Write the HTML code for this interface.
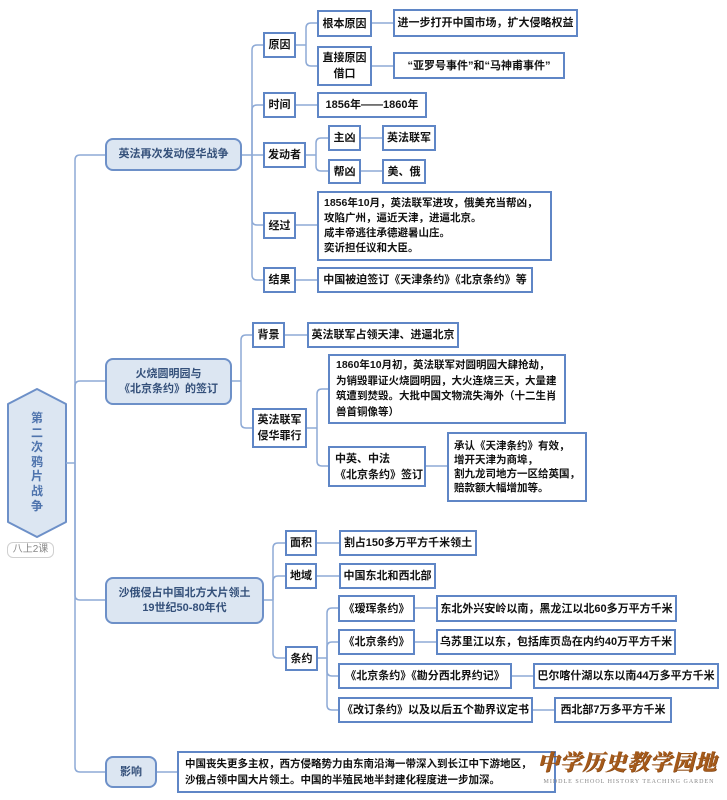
<!DOCTYPE html>
<html><head><meta charset="utf-8">
<style>
*{box-sizing:border-box;margin:0;padding:0}
html,body{width:727px;height:800px;background:#fff;overflow:hidden}
body{position:relative;font-family:"Liberation Sans","Noto Sans CJK SC",sans-serif;font-weight:bold;font-size:11px;color:#111}
.b{position:absolute;border:2px solid #5f86c6;background:#fff;display:flex;align-items:center;justify-content:center;text-align:center;white-space:nowrap;line-height:14px}
.l{justify-content:flex-start;text-align:left;padding-left:5px}
.s{font-size:10.5px}
.m{position:absolute;border:2px solid #6d90c8;background:#dce6f2;border-radius:8px;display:flex;align-items:center;justify-content:center;text-align:center;white-space:nowrap;color:#34507a;line-height:15px}
svg{position:absolute;left:0;top:0}
</style></head><body>
<svg width="727" height="800" viewBox="0 0 727 800">
<polygon points="37,389 66,404 66,522 37,537 8,522 8,404" fill="#dce6f2" stroke="#6d90c8" stroke-width="2" stroke-linejoin="round"/>
<g fill="none" stroke="#8eaad6" stroke-width="1.5">
<path d="M66 463 H75"/>
<path d="M75 463 V160 Q75 155 80 155 H105"/>
<path d="M75 463 V386 Q75 381 80 381 H105"/>
<path d="M75 463 V595 Q75 600 80 600 H105"/>
<path d="M75 463 V767 Q75 772 80 772 H105"/>
<path d="M242 155 H252"/>
<path d="M252 155 V50 Q252 45 257 45 H263"/>
<path d="M252 155 V110 Q252 105 257 105 H263"/>
<path d="M252 155 H263"/>
<path d="M252 155 V220 Q252 225 257 225 H263"/>
<path d="M252 155 V275 Q252 280 257 280 H263"/>
<path d="M296 45 H306"/>
<path d="M306 45 V28 Q306 23 311 23 H317"/>
<path d="M306 45 V61 Q306 66 311 66 H317"/>
<path d="M372 23 H393"/>
<path d="M372 66 H393"/>
<path d="M296 105 H317"/>
<path d="M306 155 H316"/>
<path d="M316 155 V143 Q316 138 321 138 H328"/>
<path d="M316 155 V166 Q316 171 321 171 H328"/>
<path d="M361 138 H382"/>
<path d="M361 171 H382"/>
<path d="M296 225 H317"/>
<path d="M296 280 H317"/>
<path d="M232 381 H241"/>
<path d="M241 381 V340 Q241 335 246 335 H252"/>
<path d="M241 381 V423 Q241 428 246 428 H252"/>
<path d="M285 335 H307"/>
<path d="M307 428 H317"/>
<path d="M317 428 V394 Q317 389 322 389 H328"/>
<path d="M317 428 V461 Q317 466 322 466 H328"/>
<path d="M426 466 H447"/>
<path d="M264 600 H273"/>
<path d="M273 600 V548 Q273 543 278 543 H285"/>
<path d="M273 600 V581 Q273 576 278 576 H285"/>
<path d="M273 600 V653 Q273 658 278 658 H285"/>
<path d="M317 543 H339"/>
<path d="M317 576 H339"/>
<path d="M318 658 H327"/>
<path d="M327 658 V613 Q327 608 332 608 H338"/>
<path d="M327 658 V647 Q327 642 332 642 H338"/>
<path d="M327 658 V671 Q327 676 332 676 H338"/>
<path d="M327 658 V705 Q327 710 332 710 H338"/>
<path d="M415 608 H436"/>
<path d="M415 642 H436"/>
<path d="M512 676 H533"/>
<path d="M533 710 H554"/>
<path d="M157 772 H177"/>
</g>
</svg>

<div style="position:absolute;left:8px;top:411px;width:58px;text-align:center;line-height:14.6px;font-size:12px;color:#4f74ad">第<br>二<br>次<br>鸦<br>片<br>战<br>争</div>
<div style="position:absolute;left:7px;top:542px;width:47px;height:16px;border:1px solid #d0d0d0;border-radius:6px;font-size:10px;font-weight:normal;color:#888;text-align:center;line-height:14px">八上2课</div>

<div class="m" style="left:105px;top:138px;width:137px;height:33px">英法再次发动侵华战争</div>
<div class="m" style="left:105px;top:358px;width:127px;height:47px">火烧圆明园与<br>《北京条约》的签订</div>
<div class="m" style="left:105px;top:577px;width:159px;height:47px">沙俄侵占中国北方大片领土<br>19世纪50-80年代</div>
<div class="m" style="left:105px;top:756px;width:52px;height:32px">影响</div>

<div class="b" style="left:263px;top:32px;width:33px;height:26px">原因</div>
<div class="b" style="left:263px;top:92px;width:33px;height:26px">时间</div>
<div class="b" style="left:263px;top:142px;width:43px;height:26px">发动者</div>
<div class="b" style="left:263px;top:212px;width:33px;height:27px">经过</div>
<div class="b" style="left:263px;top:267px;width:33px;height:26px">结果</div>
<div class="b" style="left:317px;top:10px;width:55px;height:27px">根本原因</div>
<div class="b" style="left:317px;top:46px;width:55px;height:40px;line-height:16px">直接原因<br>借口</div>
<div class="b" style="left:393px;top:9px;width:185px;height:28px">进一步打开中国市场，扩大侵略权益</div>
<div class="b" style="left:393px;top:52px;width:172px;height:27px">“亚罗号事件”和“马神甫事件”</div>
<div class="b" style="left:317px;top:92px;width:110px;height:26px">1856年——1860年</div>
<div class="b" style="left:328px;top:125px;width:33px;height:26px">主凶</div>
<div class="b" style="left:328px;top:159px;width:33px;height:25px">帮凶</div>
<div class="b" style="left:382px;top:125px;width:54px;height:26px">英法联军</div>
<div class="b" style="left:382px;top:159px;width:44px;height:25px">美、俄</div>
<div class="b l s" style="left:317px;top:191px;width:235px;height:70px;line-height:15px">1856年10月，英法联军进攻，俄美充当帮凶，<br>攻陷广州，逼近天津，进逼北京。<br>咸丰帝逃往承德避暑山庄。<br>奕䜣担任议和大臣。</div>
<div class="b" style="left:317px;top:267px;width:216px;height:26px">中国被迫签订《天津条约》《北京条约》等</div>

<div class="b" style="left:252px;top:322px;width:33px;height:26px">背景</div>
<div class="b" style="left:252px;top:408px;width:55px;height:40px;line-height:16px">英法联军<br>侵华罪行</div>
<div class="b" style="left:307px;top:322px;width:152px;height:26px">英法联军占领天津、进逼北京</div>
<div class="b l s" style="left:328px;top:354px;width:238px;height:70px;line-height:15.5px;padding-left:6px">1860年10月初，英法联军对圆明园大肆抢劫，<br>为销毁罪证火烧圆明园，大火连烧三天，大量建<br>筑遭到焚毁。大批中国文物流失海外（十二生肖<br>兽首铜像等）</div>
<div class="b l" style="left:328px;top:446px;width:98px;height:41px;line-height:16px">中英、中法<br>《北京条约》签订</div>
<div class="b l s" style="left:447px;top:432px;width:140px;height:70px;line-height:14px;padding-left:5px">承认《天津条约》有效，<br>增开天津为商埠，<br>割九龙司地方一区给英国，<br>赔款额大幅增加等。</div>

<div class="b" style="left:285px;top:530px;width:32px;height:26px">面积</div>
<div class="b" style="left:285px;top:563px;width:32px;height:26px">地域</div>
<div class="b" style="left:285px;top:646px;width:33px;height:25px">条约</div>
<div class="b" style="left:339px;top:530px;width:138px;height:26px">割占150多万平方千米领土</div>
<div class="b" style="left:339px;top:563px;width:97px;height:26px">中国东北和西北部</div>
<div class="b" style="left:338px;top:595px;width:77px;height:27px">《瑷珲条约》</div>
<div class="b" style="left:338px;top:629px;width:77px;height:26px">《北京条约》</div>
<div class="b" style="left:338px;top:663px;width:174px;height:26px">《北京条约》《勘分西北界约记》</div>
<div class="b" style="left:338px;top:697px;width:195px;height:26px">《改订条约》以及以后五个勘界议定书</div>
<div class="b" style="left:436px;top:595px;width:241px;height:27px">东北外兴安岭以南，黑龙江以北60多万平方千米</div>
<div class="b" style="left:436px;top:629px;width:240px;height:26px">乌苏里江以东，包括库页岛在内约40万平方千米</div>
<div class="b" style="left:533px;top:663px;width:186px;height:26px">巴尔喀什湖以东以南44万多平方千米</div>
<div class="b" style="left:554px;top:697px;width:118px;height:26px">西北部7万多平方千米</div>

<div class="b l s" style="left:177px;top:751px;width:379px;height:42px;line-height:16px;padding-left:6px">中国丧失更多主权，西方侵略势力由东南沿海一带深入到长江中下游地区，<br>沙俄占领中国大片领土。中国的半殖民地半封建化程度进一步加深。</div>

<div style="position:absolute;left:537px;top:749px;width:182px;font-family:'Noto Serif CJK SC',serif;font-weight:900;font-size:22px;line-height:26px;color:#a55a1a;letter-spacing:0.5px;white-space:nowrap;font-style:italic;text-shadow:0.5px 0.5px 0 #7a3e0e">中学历史教学园地</div>
<div style="position:absolute;left:540px;top:779px;width:178px;font-family:'Liberation Serif',serif;font-weight:normal;font-size:6px;color:#888;letter-spacing:1px;white-space:nowrap;text-align:center">MIDDLE SCHOOL HISTORY TEACHING GARDEN</div>
</body></html>
